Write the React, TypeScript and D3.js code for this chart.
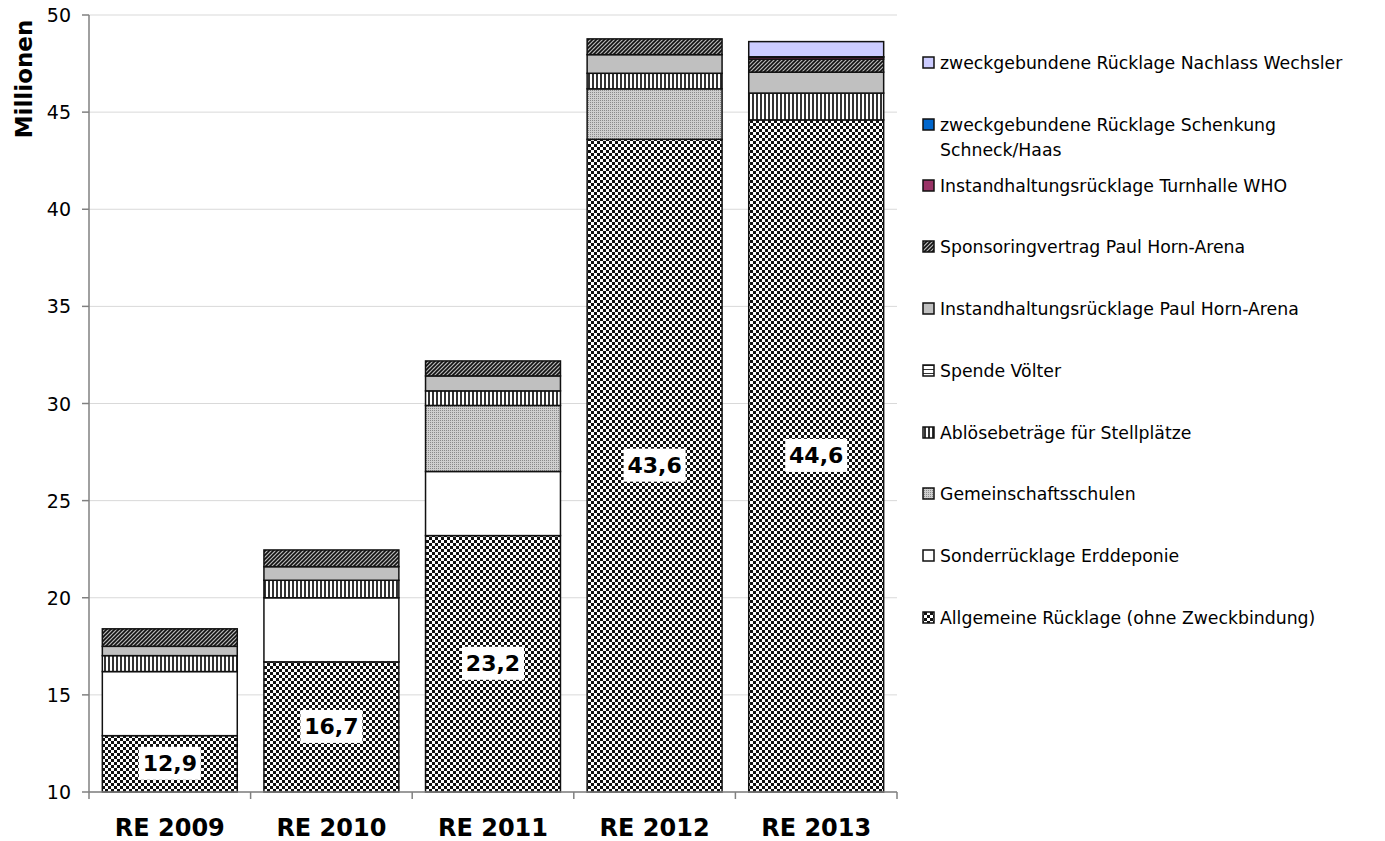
import { FC } from 'react';
import * as d3 from 'd3';

const categories = ['RE 2009', 'RE 2010', 'RE 2011', 'RE 2012', 'RE 2013'];

// values in Mio, bottom to top of each stack
const allgemeine = [12.9, 16.7, 23.2, 43.6, 44.6];
const sonderErddeponie = [3.3, 3.3, 3.3, 0, 0];
const gemeinschaftsschulen = [0, 0, 3.4, 2.6, 0];
const abloese = [0.82, 0.9, 0.75, 0.8, 1.38];
const spendeVoelter = [0, 0, 0, 0, 0];
const instandPaulHorn = [0.48, 0.7, 0.77, 0.96, 1.08];
const sponsoring = [0.9, 0.86, 0.77, 0.81, 0.67];
const instandTurnhalle = [0, 0, 0, 0, 0.1];
const schenkung = [0, 0, 0, 0, 0.02];
const nachlass = [0, 0, 0, 0, 0.78];

const yTicks = [10, 15, 20, 25, 30, 35, 40, 45, 50];

const series = [
  { key: 'allg', label: ['Allgemeine Rücklage (ohne Zweckbindung)'], values: allgemeine, fill: 'url(#pChecker)' },
  { key: 'sonder', label: ['Sonderrücklage Erddeponie'], values: sonderErddeponie, fill: '#ffffff' },
  { key: 'gemein', label: ['Gemeinschaftsschulen'], values: gemeinschaftsschulen, fill: 'url(#pDots)' },
  { key: 'abl', label: ['Ablösebeträge für Stellplätze'], values: abloese, fill: 'url(#pVert)' },
  { key: 'spende', label: ['Spende Völter'], values: spendeVoelter, fill: 'url(#pHoriz)' },
  { key: 'instPH', label: ['Instandhaltungsrücklage Paul Horn-Arena'], values: instandPaulHorn, fill: '#c0c0c0' },
  { key: 'spons', label: ['Sponsoringvertrag Paul Horn-Arena'], values: sponsoring, fill: 'url(#pDiag)' },
  { key: 'instWHO', label: ['Instandhaltungsrücklage Turnhalle WHO'], values: instandTurnhalle, fill: '#993366' },
  { key: 'schenk', label: ['zweckgebundene Rücklage Schenkung', 'Schneck/Haas'], values: schenkung, fill: '#0066cc' },
  { key: 'nachlass', label: ['zweckgebundene Rücklage Nachlass Wechsler'], values: nachlass, fill: '#ccccff' },
];

const W = 1385;
const H = 841;
const margin = { left: 89, right: 488, top: 15, bottom: 49 };
const font = 'DejaVu Sans, Verdana, sans-serif';

const App: FC = () => {
  const x = d3
    .scaleBand()
    .domain(categories)
    .range([margin.left, W - margin.right])
    .paddingInner(0.165)
    .paddingOuter(0.0825);
  const y = d3.scaleLinear().domain([10, 50]).range([H - margin.bottom, margin.top]);
  const yMin = y.domain()[0];

  const rows = categories.map((c, i) => {
    const r: Record<string, number | string> = { cat: c };
    series.forEach((s) => (r[s.key] = s.values[i]));
    return r;
  });
  const stacked = d3.stack<Record<string, number | string>>().keys(series.map((s) => s.key))(rows as any);

  const bandEdges = categories.map((_, i) => margin.left + (i * (W - margin.right - margin.left)) / categories.length);
  bandEdges.push(W - margin.right);

  const legendX = 923;
  const legendRows = [63, 125, 186, 247, 309, 371, 433, 494, 556, 618];
  const legendSeries = [...series].reverse();

  return (
    <svg
      width={W}
      height={H}
      style={{ position: 'absolute', left: 0, top: 0, background: '#fff' }}
      fontFamily={font}
    >
      <style>{'body{margin:0}'}</style>
      <defs>
        <pattern id="pChecker" patternUnits="userSpaceOnUse" width={6} height={6}>
          <rect width={6} height={6} fill="#fff" />
          <rect width={3} height={3} fill="#111" />
          <rect x={3} y={3} width={3} height={3} fill="#111" />
        </pattern>
        <pattern id="pDots" patternUnits="userSpaceOnUse" width={2} height={2}>
          <rect width={2} height={2} fill="#cfcfcf" />
          <rect width={1} height={1} fill="#8a8a8a" />
        </pattern>
        <pattern id="pVert" patternUnits="userSpaceOnUse" width={4} height={4}>
          <rect width={4} height={4} fill="#fff" />
          <rect width={2} height={4} fill="#333" />
        </pattern>
        <pattern id="pHoriz" patternUnits="userSpaceOnUse" width={4} height={4}>
          <rect width={4} height={4} fill="#fff" />
          <rect y={1} width={4} height={1} fill="#333" />
        </pattern>
        <pattern id="pDiag" patternUnits="userSpaceOnUse" width={4} height={4}>
          <rect width={4} height={4} fill="#b8b8b8" />
          <path d="M-1,1 l2,-2 M0,4 l4,-4 M3,5 l2,-2" stroke="#111" strokeWidth={1.6} />
        </pattern>
      </defs>

      {/* gridlines */}
      {yTicks.map((t) => (
        <line key={`g${t}`} x1={margin.left} x2={W - margin.right} y1={y(t)} y2={y(t)} stroke="#d9d9d9" strokeWidth={1} />
      ))}

      {/* bars, cut at the axis minimum */}
      {stacked.map((layer, si) => (
        <g key={series[si].key}>
          {layer.map((d, i) => {
            const lo = Math.max(d[0], yMin);
            const h = y(lo) - y(d[1]);
            if (h <= 0) return null;
            return (
              <rect
                key={i}
                x={x(categories[i])}
                y={y(d[1])}
                width={x.bandwidth()}
                height={h}
                fill={series[si].fill}
                stroke="#111"
                strokeWidth={1.5}
              />
            );
          })}
        </g>
      ))}

      {/* value labels */}
      {stacked[0].map((d, i) => {
        const cx = (x(categories[i]) as number) + x.bandwidth() / 2;
        const cy = (y(Math.max(d[0], yMin)) + y(d[1])) / 2;
        const txt = allgemeine[i].toFixed(1).replace('.', ',');
        return (
          <g key={`l${i}`}>
            <rect x={cx - 31} y={cy - 17} width={62} height={33} fill="#fff" />
            <text x={cx} y={cy} textAnchor="middle" dominantBaseline="central" fontSize={22} fontWeight="bold" fill="#000">
              {txt}
            </text>
          </g>
        );
      })}

      {/* y axis */}
      <line x1={margin.left} x2={margin.left} y1={margin.top} y2={H - margin.bottom} stroke="#808080" strokeWidth={1.5} />
      {yTicks.map((t) => (
        <g key={`t${t}`}>
          <line x1={margin.left - 7} x2={margin.left} y1={y(t)} y2={y(t)} stroke="#808080" strokeWidth={1.5} />
          <text x={71} y={y(t)} textAnchor="end" dominantBaseline="central" fontSize={19} fill="#000">
            {t}
          </text>
        </g>
      ))}
      <text
        transform={`translate(24, 79) rotate(-90)`}
        textAnchor="middle"
        dominantBaseline="central"
        fontSize={23}
        fontWeight="bold"
      >
        Millionen
      </text>

      {/* x axis */}
      <line x1={margin.left} x2={W - margin.right} y1={H - margin.bottom} y2={H - margin.bottom} stroke="#808080" strokeWidth={1.5} />
      {bandEdges.map((bx, i) => (
        <line key={`xt${i}`} x1={bx} x2={bx} y1={H - margin.bottom} y2={H - margin.bottom + 7} stroke="#808080" strokeWidth={1.5} />
      ))}
      {categories.map((c) => (
        <text
          key={c}
          x={(x(c) as number) + x.bandwidth() / 2}
          y={828}
          textAnchor="middle"
          dominantBaseline="central"
          fontSize={24}
          fontWeight="bold"
        >
          {c}
        </text>
      ))}

      {/* legend */}
      {legendSeries.map((s, i) => (
        <g key={`lg${s.key}`}>
          <rect x={legendX} y={legendRows[i] - 6} width={11} height={11} fill={s.fill} stroke="#111" strokeWidth={1.5} />
          {s.label.map((ln, j) => (
            <text key={j} x={940} y={legendRows[i] + j * 25} dominantBaseline="central" fontSize={17.3} fill="#000">
              {ln}
            </text>
          ))}
        </g>
      ))}
    </svg>
  );
};

export default App;
